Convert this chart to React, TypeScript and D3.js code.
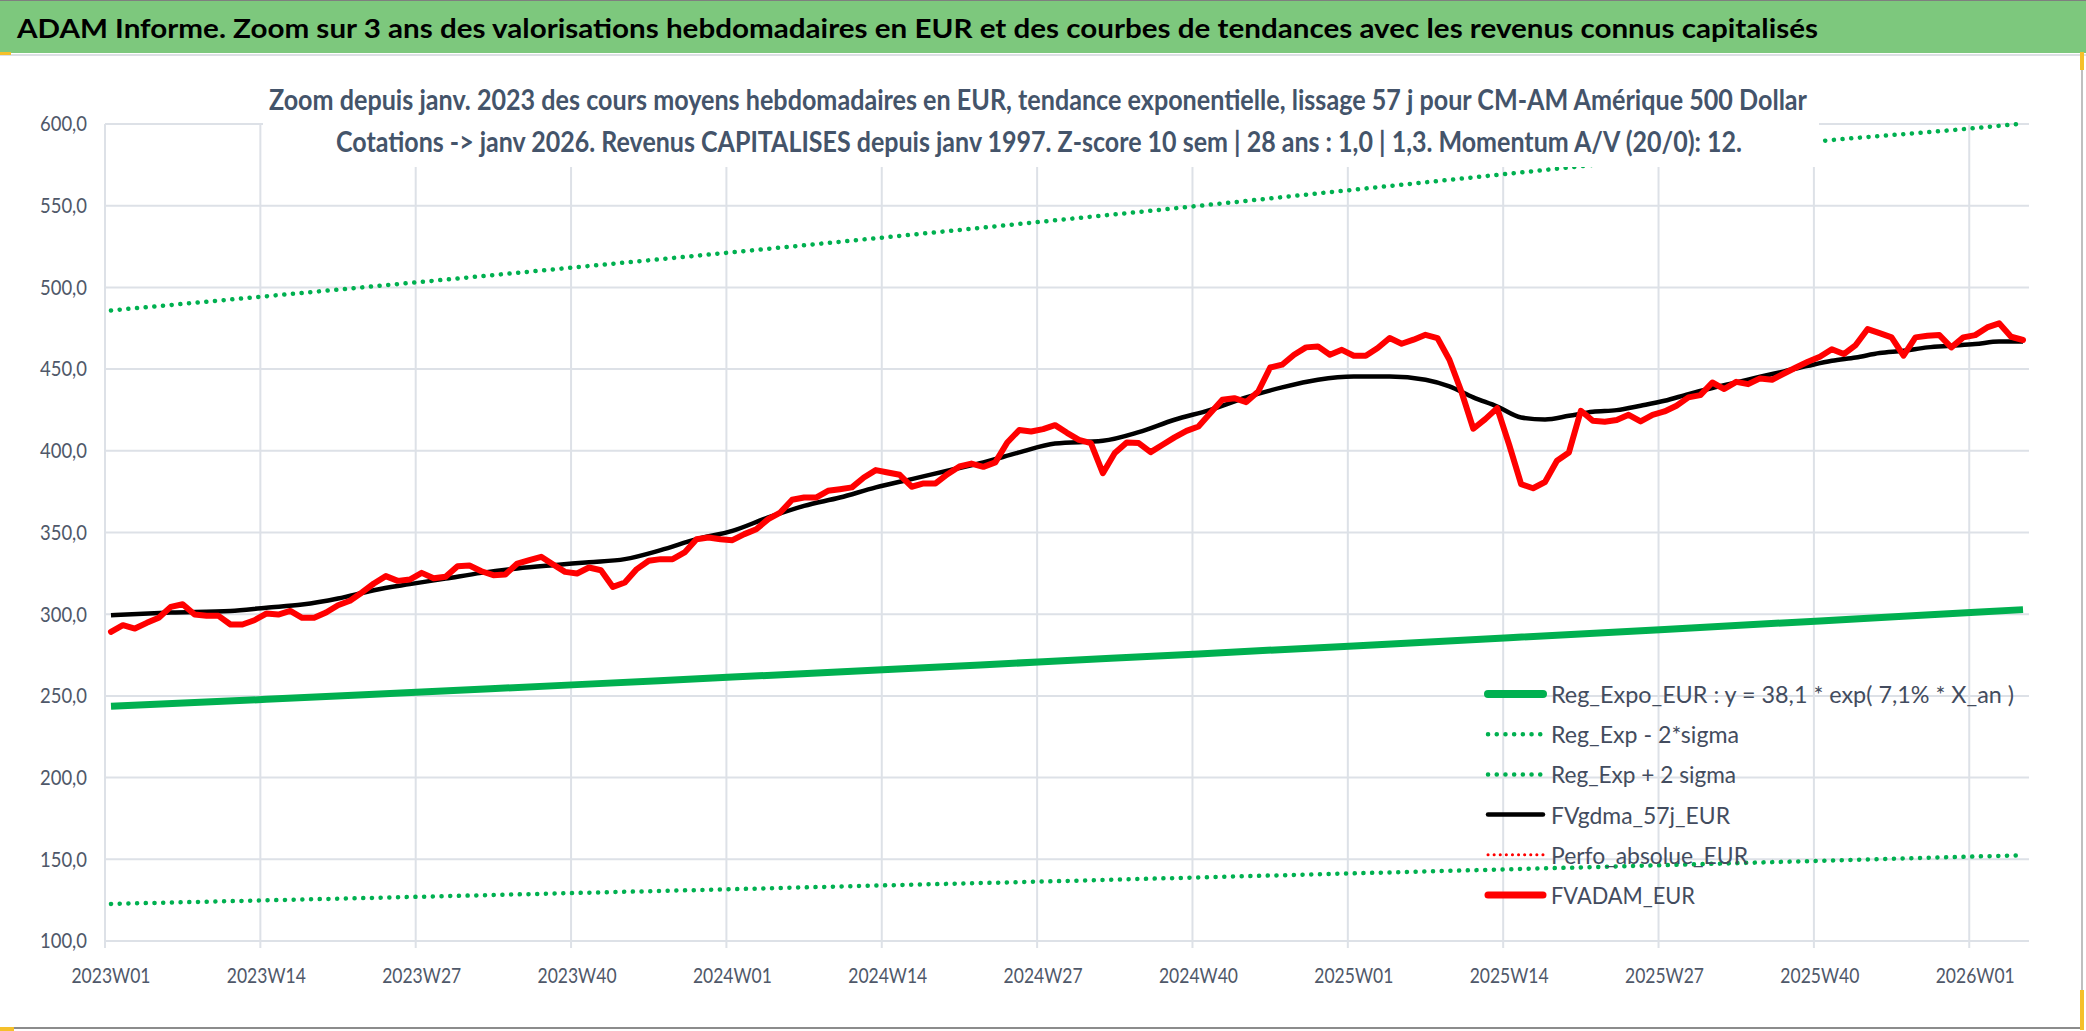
import * as d3 from 'd3';
import { useEffect, useRef } from 'react';

const WIDTH = 2086;
const HEIGHT = 1031;
const FONT = 'Lato, "Liberation Sans Narrow", "DejaVu Sans", sans-serif';

// Weekly categories 2023W01 .. 2026W05
const weeks: string[] = [];
for (const yr of [2023, 2024, 2025]) {
  for (let w = 1; w <= 52; w++) weeks.push(`${yr}W${String(w).padStart(2, '0')}`);
}
for (let w = 1; w <= 5; w++) weeks.push(`2026W0${w}`);

const tickLabels = [
  '2023W01', '2023W14', '2023W27', '2023W40',
  '2024W01', '2024W14', '2024W27', '2024W40',
  '2025W01', '2025W14', '2025W27', '2025W40',
  '2026W01'
];
const yTicks = [100, 150, 200, 250, 300, 350, 400, 450, 500, 550, 600];

// FVADAM_EUR, weekly average value
const fvadam = [
  289.2, 293.3, 291.2, 294.7, 297.8, 304.5, 306.1, 299.8, 299.0, 299.0,
  293.7, 293.7, 296.3, 300.4, 299.8, 302.0, 297.8, 297.8, 301.0, 305.5,
  308.2, 313.3, 318.8, 323.3, 320.4, 321.2, 325.3, 322.0, 322.9, 329.4,
  329.8, 326.3, 323.9, 324.3, 331.0, 333.1, 335.1, 330.4, 325.9, 324.9,
  328.6, 326.9, 316.7, 319.4, 327.6, 332.7, 333.7, 333.7, 337.8, 345.9,
  346.9, 345.9, 345.3, 349.0, 352.0, 358.2, 362.2, 370.0, 371.4, 371.4,
  375.5, 376.5, 377.6, 383.7, 388.2, 386.7, 385.3, 378.0, 380.0, 380.0,
  385.7, 390.4, 392.2, 390.2, 392.9, 405.1, 412.7, 411.8, 413.3, 415.7,
  411.0, 406.7, 404.7, 386.3, 398.6, 405.1, 404.7, 399.2, 403.7, 408.2,
  412.2, 414.9, 423.1, 431.2, 432.2, 429.8, 436.3, 451.0, 452.7, 458.8,
  463.3, 463.9, 458.8, 461.8, 458.2, 458.2, 462.9, 469.0, 465.5, 468.0,
  471.0, 469.0, 455.7, 436.3, 413.5, 419.4, 426.1, 403.7, 379.6, 377.1,
  380.9, 393.9, 399.0, 424.5, 418.4, 417.8, 418.8, 422.0, 418.0, 422.0,
  424.1, 427.6, 432.7, 434.1, 441.8, 437.8, 442.2, 440.8, 444.3, 443.5,
  447.3, 451.0, 454.5, 457.6, 462.2, 459.2, 464.7, 474.5, 472.0, 469.4,
  458.2, 469.4, 470.4, 470.8, 463.3, 469.4, 470.8, 475.5, 478.0, 469.8,
  467.8
];

// FVgdma_57j_EUR, smooth curve sampled at these weeks
const gdmaWeek = [
  0, 5, 10, 13, 16, 19, 22, 25, 28, 31, 34, 37, 40, 43, 46, 49, 52, 55, 58, 61,
  64, 67, 70, 73, 76, 79, 83, 86, 89, 92, 95, 98, 101, 104, 107, 110, 112, 114,
  116, 118, 120, 122, 124, 126, 128, 130, 132, 134, 136, 138, 140, 142, 144,
  146, 148, 150, 152, 154, 156, 158, 160
];
const gdmaValue = [
  299.4, 301.0, 302.0, 304.0, 305.9, 309.6, 314.7, 318.4, 321.8, 325.3, 328.0,
  330.0, 331.8, 333.7, 339.2, 345.9, 351.0, 359.2, 366.3, 371.4, 377.6, 382.7,
  387.8, 392.9, 399.0, 404.5, 406.1, 411.4, 419.0, 425.1, 432.7, 438.8, 443.5,
  445.5, 445.5, 443.5, 439.4, 432.7, 427.1, 420.4, 419.2, 421.4, 423.9, 424.9,
  427.6, 430.6, 434.7, 438.4, 441.8, 445.3, 448.6, 452.0, 455.1, 457.1, 459.8,
  461.2, 463.3, 464.3, 465.3, 466.9, 466.9
];

// Exponential trend and +/- 2 sigma bands, read every 13 weeks
const trendWeek = [0, 13, 26, 39, 52, 65, 78, 91, 104, 117, 130, 143, 156, 160];
const regExpo = [243.6, 247.9, 252.4, 256.9, 261.5, 266.1, 270.9, 275.7, 280.6, 285.6, 290.7, 295.9, 301.2, 302.8];
const regLow = [122.7, 124.9, 127.1, 129.4, 131.7, 134.1, 136.4, 138.9, 141.4, 143.9, 146.4, 149.1, 151.7, 152.5];
const regHigh = [485.9, 494.6, 503.4, 512.4, 521.5, 530.8, 540.3, 549.9, 559.8, 569.6, 579.5, 589.5, 597.5, 600.3];

const legendItems = [
  { label: 'Reg_Expo_EUR : y = 38,1 * exp( 7,1% *  X_an )', color: '#00b050', width: 8, dash: null, len: 463 },
  { label: 'Reg_Exp - 2*sigma', color: '#00b050', width: 4.5, dash: '0.1 8.6', len: 188 },
  { label: 'Reg_Exp + 2 sigma', color: '#00b050', width: 4.5, dash: '0.1 8.6', len: 185 },
  { label: 'FVgdma_57j_EUR', color: '#000000', width: 4.5, dash: null, len: 179 },
  { label: 'Perfo_absolue_EUR', color: '#ff0000', width: 3, dash: '0.1 6', len: 197 },
  { label: 'FVADAM_EUR', color: '#ff0000', width: 7, dash: null, len: 144 }
];

export default function App() {
  const svgRef = useRef<SVGSVGElement>(null);

  useEffect(() => {
    if (!svgRef.current) return;
    const svg = d3.select(svgRef.current);
    svg.selectAll('*').remove();

    const plot = { left: 105, right: 2029, top: 124, bottom: 941 };

    const x = d3.scaleBand<string>()
      .domain(weeks)
      .range([plot.left, plot.right])
      .padding(0);
    const cx = (i: number) => (x(weeks[i]) || 0) + x.bandwidth() / 2;

    const y = d3.scaleLinear()
      .domain([100, 600])
      .range([plot.bottom, plot.top]);

    svg.append('rect').attr('width', WIDTH).attr('height', HEIGHT).attr('fill', '#ffffff');

    // Title banner
    svg.append('rect').attr('x', 0).attr('y', 0).attr('width', WIDTH).attr('height', 53).attr('fill', '#7dc87d');
    svg.append('line').attr('x1', 0).attr('x2', WIDTH).attr('y1', 0.5).attr('y2', 0.5).attr('stroke', '#7f7f7f');
    svg.append('line').attr('x1', 0).attr('x2', WIDTH).attr('y1', 55).attr('y2', 55)
      .attr('stroke', '#dcdfe4').attr('stroke-width', 2);
    svg.append('text')
      .attr('x', 17).attr('y', 38)
      .attr('textLength', 1801).attr('lengthAdjust', 'spacingAndGlyphs')
      .style('font-family', FONT).style('font-size', '27px').style('font-weight', 'bold')
      .attr('fill', '#000000')
      .text('ADAM Informe. Zoom sur 3 ans des valorisations hebdomadaires en EUR et des courbes de tendances avec les revenus connus capitalisés');

    // Chart frame
    svg.append('line').attr('x1', 0).attr('x2', 2083).attr('y1', 1028).attr('y2', 1028).attr('stroke', '#8c8c8c').attr('stroke-width', 2);
    svg.append('line').attr('x1', 2082).attr('x2', 2082).attr('y1', 56).attr('y2', 1029).attr('stroke', '#bfbfbf').attr('stroke-width', 2);
    // selection handles
    svg.append('rect').attr('x', 0).attr('y', 52).attr('width', 11).attr('height', 3).attr('fill', '#f5c02a');
    svg.append('rect').attr('x', 2080).attr('y', 52).attr('width', 4).attr('height', 18).attr('fill', '#f5c02a');
    svg.append('rect').attr('x', 0).attr('y', 1027).attr('width', 14).attr('height', 4).attr('fill', '#f5c02a');
    svg.append('rect').attr('x', 2080).attr('y', 990).attr('width', 4).attr('height', 40).attr('fill', '#f5c02a');

    // Gridlines
    const grid = svg.append('g').attr('stroke', '#dde1e7').attr('stroke-width', 2);
    grid.selectAll('line.h')
      .data(yTicks)
      .enter()
      .append('line')
      .attr('x1', plot.left).attr('x2', plot.right)
      .attr('y1', d => y(d)).attr('y2', d => y(d));
    grid.selectAll('line.v')
      .data(tickLabels)
      .enter()
      .append('line')
      .attr('x1', d => x(d) || 0).attr('x2', d => x(d) || 0)
      .attr('y1', plot.top).attr('y2', plot.bottom + 7);

    // Y-axis labels
    svg.append('g')
      .selectAll('text')
      .data(yTicks)
      .enter()
      .append('text')
      .attr('x', 87)
      .attr('y', d => y(d))
      .attr('dy', '0.35em')
      .attr('text-anchor', 'end')
      .attr('textLength', 47).attr('lengthAdjust', 'spacingAndGlyphs')
      .style('font-family', FONT).style('font-size', '21px')
      .attr('fill', '#4f5869')
      .text(d => d3.format('.1f')(d).replace('.', ','));

    // X-axis labels
    svg.append('g')
      .selectAll('text')
      .data(tickLabels)
      .enter()
      .append('text')
      .attr('x', d => (x(d) || 0) + x.bandwidth() / 2)
      .attr('y', 983)
      .attr('text-anchor', 'middle')
      .attr('textLength', 79).attr('lengthAdjust', 'spacingAndGlyphs')
      .style('font-family', FONT).style('font-size', '21px')
      .attr('fill', '#4f5869')
      .text(d => d);

    // Series
    const defs = svg.append('defs');
    defs.append('clipPath').attr('id', 'plot-clip')
      .append('rect')
      .attr('x', plot.left).attr('y', plot.top - 6)
      .attr('width', plot.right - plot.left).attr('height', plot.bottom - plot.top + 6);

    const series = svg.append('g').attr('clip-path', 'url(#plot-clip)');

    const trendLine = d3.line<number>()
      .x((d, i) => cx(trendWeek[i]))
      .y(d => y(d))
      .curve(d3.curveMonotoneX);

    series.append('path')
      .attr('d', trendLine(regExpo))
      .attr('fill', 'none').attr('stroke', '#00b050').attr('stroke-width', 7);

    for (const band of [regLow, regHigh]) {
      series.append('path')
        .attr('d', trendLine(band))
        .attr('fill', 'none').attr('stroke', '#00b050').attr('stroke-width', 4.5)
        .attr('stroke-linecap', 'round').attr('stroke-dasharray', '0.1 8.6');
    }

    const gdmaLine = d3.line<number>()
      .x((d, i) => cx(gdmaWeek[i]))
      .y(d => y(d))
      .curve(d3.curveMonotoneX);
    series.append('path')
      .attr('d', gdmaLine(gdmaValue))
      .attr('fill', 'none').attr('stroke', '#000000').attr('stroke-width', 4.5)
      .attr('stroke-linejoin', 'round');

    const adamLine = d3.line<number>()
      .x((d, i) => cx(i))
      .y(d => y(d));
    series.append('path')
      .attr('d', adamLine(fvadam))
      .attr('fill', 'none').attr('stroke', '#ff0000').attr('stroke-width', 6)
      .attr('stroke-linejoin', 'round').attr('stroke-linecap', 'round');

    // Subtitle box (sits over the plot area)
    svg.append('rect').attr('x', 263).attr('y', 62).attr('width', 1556).attr('height', 105).attr('fill', '#ffffff');
    svg.append('text')
      .attr('x', 269).attr('y', 110)
      .attr('textLength', 1538).attr('lengthAdjust', 'spacingAndGlyphs')
      .style('font-family', FONT).style('font-size', '29px').style('font-weight', 'bold')
      .attr('fill', '#44546a')
      .text('Zoom depuis janv. 2023 des cours moyens hebdomadaires en EUR, tendance exponentielle, lissage 57 j pour CM-AM Amérique 500 Dollar');
    svg.append('text')
      .attr('x', 336).attr('y', 152)
      .attr('textLength', 1406).attr('lengthAdjust', 'spacingAndGlyphs')
      .style('font-family', FONT).style('font-size', '29px').style('font-weight', 'bold')
      .attr('fill', '#44546a')
      .text('Cotations -> janv 2026. Revenus CAPITALISES depuis janv 1997. Z-score 10 sem | 28 ans : 1,0 | 1,3. Momentum A/V (20/0): 12.');

    // Legend
    const legend = svg.append('g');
    legendItems.forEach((item, k) => {
      const ly = 694 + k * 40.2;
      legend.append('line')
        .attr('x1', 1488).attr('x2', 1543)
        .attr('y1', ly).attr('y2', ly)
        .attr('stroke', item.color).attr('stroke-width', item.width)
        .attr('stroke-linecap', 'round')
        .attr('stroke-dasharray', item.dash);
      legend.append('text')
        .attr('x', 1551).attr('y', ly + 9)
        .attr('textLength', item.len).attr('lengthAdjust', 'spacingAndGlyphs')
        .style('font-family', FONT).style('font-size', '24px')
        .attr('fill', '#434c5e')
        .text(item.label);
    });
  }, []);

  return (
    <svg
      ref={svgRef}
      width={WIDTH}
      height={HEIGHT}
      style={{ position: 'absolute', left: 0, top: 0, display: 'block' }}
    />
  );
}
